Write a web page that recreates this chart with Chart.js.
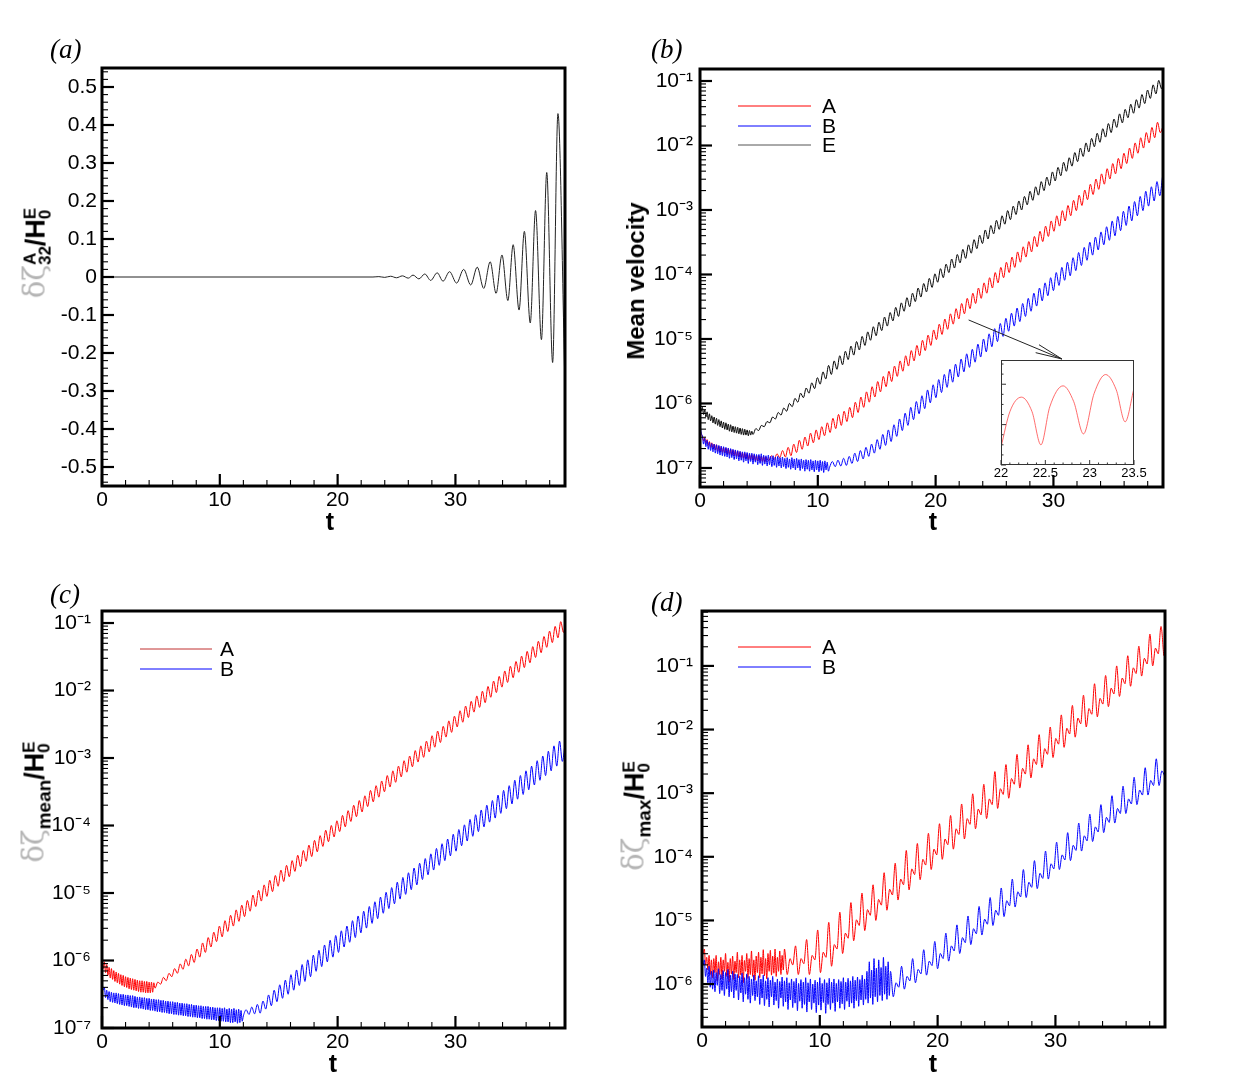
<!DOCTYPE html>
<html><head><meta charset="utf-8"><title>Four-panel growth chart</title>
<script src="https://cdn.jsdelivr.net/npm/chart.js@4.4.1/dist/chart.umd.min.js"></script>
<style>
body{margin:0;background:#fff;}
#wrap{position:relative;width:1242px;height:1092px;background:#fff;overflow:hidden;font-family:"Liberation Sans",Arial,Helvetica,sans-serif;color:#000;}
canvas{position:absolute;}
.pl{position:absolute;font-family:"Liberation Serif","Times New Roman",serif;font-style:italic;font-size:27px;line-height:27px;white-space:nowrap;}
.xt{position:absolute;font-weight:bold;font-size:25px;line-height:25px;transform:translate(-50%,-50%);}
.yt{position:absolute;font-weight:bold;font-size:27px;line-height:27px;white-space:nowrap;transform:translate(-50%,-50%) rotate(-90deg);}
.yt2{font-size:24px;line-height:24px;}
.g{color:#b4b4b4;font-weight:normal;font-family:"DejaVu Serif",serif;font-size:29px;}
.ss{display:inline-block;vertical-align:middle;font-size:17px;line-height:15px;text-align:left;}
.ss span{display:block;}
.sb{font-size:19px;vertical-align:-7px;}
</style></head><body>
<div id="wrap">
<canvas id="ca" width="600" height="510" style="left:0px;top:40px"></canvas>
<canvas id="cb" width="640" height="510" style="left:600px;top:40px"></canvas>
<canvas id="cc" width="600" height="500" style="left:0px;top:580px"></canvas>
<canvas id="cd" width="640" height="500" style="left:600px;top:580px"></canvas>
<canvas id="ci" width="165" height="140" style="left:990px;top:350px;z-index:2"></canvas>

<div class="pl" style="left:50px;top:36px">(a)</div>
<div class="pl" style="left:651px;top:36px">(b)</div>
<div class="pl" style="left:50px;top:581px">(c)</div>
<div class="pl" style="left:651px;top:589px">(d)</div>

<div class="xt" style="left:330px;top:521px">t</div>
<div class="xt" style="left:933px;top:521px">t</div>
<div class="xt" style="left:333px;top:1063px">t</div>
<div class="xt" style="left:933px;top:1063px">t</div>

<div class="yt" style="left:37px;top:253px"><span class="g">δζ</span><span class="ss"><span>A</span><span>32</span></span>/H<span class="ss"><span>E</span><span>0</span></span></div>
<div class="yt yt2" style="left:636px;top:281px">Mean velocity</div>
<div class="yt" style="left:39px;top:802px"><span class="g">δζ</span><span class="sb">mean</span>/H<span class="ss"><span>E</span><span>0</span></span></div>
<div class="yt" style="left:639px;top:816px"><span class="g">δζ</span><span class="sb">max</span>/H<span class="ss"><span>E</span><span>0</span></span></div>
</div>
<script>
// ---------------- shared axis values ----------------
const T_MAX = 39.3;
const x_ticks = [0, 10, 20, 30];
const x_tickLabels = ['0', '10', '20', '30'];
const logTickExp = [-7, -6, -5, -4, -3, -2, -1];
const logTickLabels = ['10⁻⁷', '10⁻⁶', '10⁻⁵', '10⁻⁴', '10⁻³', '10⁻²', '10⁻¹'];

// ---------------- panel (a): δζ^A_32/H^E_0 vs t ----------------
const a_t = [0, 23.0, 23.5, 24.0, 24.5, 25.0, 25.5, 26.0, 26.4, 26.9, 27.4, 27.9, 28.45, 28.95, 29.5, 30.1, 30.7, 31.3, 31.85, 32.4, 32.95, 33.45, 33.95, 34.45, 34.9, 35.4, 35.85, 36.35, 36.8, 37.3, 37.75, 38.25, 38.7, 39.3];
const a_v = [0, 0, 0.001, -0.001, 0.002, -0.002, 0.003, -0.003, 0.005, -0.005, 0.008, -0.009, 0.011, -0.011, 0.014, -0.016, 0.02, -0.021, 0.026, -0.03, 0.04, -0.043, 0.058, -0.062, 0.085, -0.087, 0.12, -0.121, 0.175, -0.165, 0.275, -0.225, 0.43, -0.29];
const a_yTicks = [-0.5, -0.4, -0.3, -0.2, -0.1, 0, 0.1, 0.2, 0.3, 0.4, 0.5];
const a_yTickLabels = ['-0.5', '-0.4', '-0.3', '-0.2', '-0.1', '0', '0.1', '0.2', '0.3', '0.4', '0.5'];

// ---------------- panel (b): mean velocity (log10 values) ----------------
const P_OSC = 0.475;      // oscillation period
const NOISE_DT = 0.1;     // sampling step of the noisy early parts
const b_E_noise = [-6.02,-6.12,-6.06,-6.17,-6.10,-6.21,-6.13,-6.25,-6.16,-6.27,-6.19,-6.30,-6.21,-6.32,-6.23,-6.34,-6.25,-6.36,-6.27,-6.38,-6.29,-6.40,-6.30,-6.41,-6.32,-6.43,-6.33,-6.44,-6.35,-6.45,-6.36,-6.46,-6.37,-6.47,-6.38,-6.48,-6.39,-6.49,-6.40,-6.49,-6.41,-6.50,-6.42,-6.49,-6.43];
const b_E_t0 = 4.5;
const b_E_troughs = [-6.48,-6.42,-6.36,-6.30,-6.24,-6.18,-6.12,-6.05,-5.98,-5.91,-5.84,-5.77,-5.70,-5.62,-5.55,-5.47,-5.40,-5.32,-5.25,-5.17,-5.10,-5.02,-4.95,-4.87,-4.80,-4.72,-4.65,-4.57,-4.50,-4.42,-4.35,-4.27,-4.20,-4.12,-4.05,-3.97,-3.90,-3.82,-3.75,-3.67,-3.60,-3.52,-3.45,-3.37,-3.30,-3.22,-3.15,-3.07,-3.00,-2.92,-2.85,-2.77,-2.70,-2.62,-2.55,-2.47,-2.40,-2.32,-2.25,-2.17,-2.10,-2.02,-1.95,-1.87,-1.80,-1.72,-1.65,-1.57,-1.50,-1.42,-1.35,-1.27,-1.20,-1.12];
const b_E_peaks = [-6.39,-6.34,-6.28,-6.21,-6.14,-6.07,-6.00,-5.92,-5.84,-5.76,-5.68,-5.60,-5.51,-5.41,-5.34,-5.26,-5.19,-5.11,-5.04,-4.96,-4.89,-4.81,-4.74,-4.66,-4.59,-4.51,-4.44,-4.36,-4.29,-4.21,-4.14,-4.06,-3.99,-3.91,-3.84,-3.76,-3.69,-3.61,-3.54,-3.46,-3.39,-3.31,-3.24,-3.16,-3.09,-3.01,-2.94,-2.86,-2.79,-2.71,-2.64,-2.56,-2.49,-2.41,-2.34,-2.26,-2.19,-2.11,-2.04,-1.96,-1.89,-1.81,-1.74,-1.66,-1.59,-1.51,-1.44,-1.36,-1.29,-1.21,-1.14,-1.06,-0.99];
const b_E_end = -1.05;

const b_A_noise = [-6.38,-6.48,-6.50,-6.58,-6.53,-6.62,-6.56,-6.65,-6.59,-6.68,-6.61,-6.70,-6.63,-6.72,-6.64,-6.74,-6.66,-6.75,-6.67,-6.76,-6.68,-6.77,-6.69,-6.78,-6.70,-6.79,-6.71,-6.80,-6.72,-6.81,-6.73,-6.82,-6.74,-6.83,-6.75,-6.84,-6.76,-6.85,-6.77,-6.86,-6.78,-6.87,-6.79,-6.87,-6.79,-6.88,-6.80,-6.89,-6.81,-6.89,-6.81,-6.90,-6.82,-6.90,-6.82,-6.91,-6.83];
const b_A_t0 = 5.82;
const b_A_troughs = [-6.89,-6.87,-6.84,-6.83,-6.81,-6.76,-6.71,-6.66,-6.61,-6.56,-6.50,-6.45,-6.39,-6.34,-6.28,-6.22,-6.14,-6.06,-5.98,-5.90,-5.82,-5.74,-5.66,-5.58,-5.50,-5.42,-5.34,-5.26,-5.18,-5.10,-5.01,-4.93,-4.85,-4.77,-4.69,-4.61,-4.53,-4.45,-4.37,-4.29,-4.21,-4.13,-4.05,-3.97,-3.89,-3.81,-3.73,-3.65,-3.57,-3.49,-3.41,-3.33,-3.25,-3.17,-3.09,-3.01,-2.93,-2.84,-2.76,-2.68,-2.60,-2.52,-2.44,-2.36,-2.28,-2.20,-2.12,-2.04,-1.96,-1.88,-1.80];
const b_A_peaks = [-6.81,-6.78,-6.73,-6.68,-6.63,-6.57,-6.52,-6.46,-6.41,-6.36,-6.30,-6.23,-6.17,-6.12,-6.06,-5.98,-5.90,-5.82,-5.74,-5.66,-5.58,-5.50,-5.42,-5.34,-5.26,-5.18,-5.10,-5.02,-4.94,-4.86,-4.77,-4.69,-4.61,-4.53,-4.45,-4.37,-4.29,-4.21,-4.13,-4.05,-3.97,-3.89,-3.81,-3.73,-3.65,-3.57,-3.49,-3.41,-3.33,-3.25,-3.17,-3.09,-3.01,-2.93,-2.85,-2.77,-2.69,-2.60,-2.52,-2.44,-2.36,-2.28,-2.20,-2.12,-2.04,-1.96,-1.88,-1.80,-1.72,-1.64];
const b_A_end = -1.70;

const b_B_noise = [-6.30,-6.46,-6.50,-6.63,-6.54,-6.67,-6.57,-6.71,-6.60,-6.73,
-6.62,-6.75,-6.63,-6.77,-6.64,-6.78,-6.65,-6.80,-6.66,-6.81,
-6.67,-6.82,-6.68,-6.83,-6.69,-6.85,-6.70,-6.84,-6.71,-6.87,
-6.72,-6.86,-6.73,-6.89,-6.74,-6.88,-6.75,-6.91,-6.75,-6.89,
-6.76,-6.93,-6.77,-6.90,-6.77,-6.94,-6.78,-6.91,-6.79,-6.95,
-6.79,-6.93,-6.78,-6.96,-6.80,-6.94,-6.81,-6.97,-6.80,-6.95,
-6.82,-6.98,-6.81,-6.96,-6.83,-6.99,-6.82,-6.97,-6.84,-7.00,
-6.83,-6.98,-6.85,-7.01,-6.84,-6.99,-6.86,-7.02,-6.84,-7.00,
-6.86,-7.03,-6.85,-7.00,-6.87,-7.04,-6.86,-7.01,-6.88,-7.05,
-6.87,-7.02,-6.88,-7.05,-6.87,-7.03,-6.89,-7.06,-6.88,-7.03,
-6.89,-7.06,-6.88,-7.04,-6.90,-7.07,-6.89,-7.03,-6.91,-7.05];
const b_B_t0 = 11.0;
const b_B_troughs = [-6.99,-6.98,-6.97,-6.96,-6.93,-6.90,-6.86,-6.82,-6.77,-6.71,-6.65,-6.59,-6.51,-6.42,-6.34,-6.25,-6.16,-6.08,-5.99,-5.91,-5.83,-5.75,-5.67,-5.59,-5.51,-5.44,-5.36,-5.28,-5.20,-5.12,-5.04,-4.96,-4.88,-4.80,-4.73,-4.65,-4.57,-4.49,-4.41,-4.33,-4.25,-4.17,-4.09,-4.02,-3.94,-3.86,-3.78,-3.70,-3.62,-3.54,-3.47,-3.40,-3.32,-3.24,-3.17,-3.09,-3.01,-2.94,-2.86,-2.78];
const b_B_peaks = [-6.90,-6.88,-6.85,-6.82,-6.77,-6.73,-6.68,-6.63,-6.56,-6.48,-6.41,-6.33,-6.24,-6.15,-6.06,-5.97,-5.88,-5.79,-5.71,-5.63,-5.55,-5.47,-5.39,-5.31,-5.23,-5.16,-5.08,-5.00,-4.92,-4.84,-4.76,-4.68,-4.60,-4.52,-4.45,-4.37,-4.29,-4.21,-4.13,-4.05,-3.97,-3.89,-3.81,-3.74,-3.66,-3.58,-3.50,-3.42,-3.34,-3.26,-3.17,-3.10,-3.02,-2.94,-2.87,-2.79,-2.71,-2.64,-2.56,-2.48];

const b_yRangeExp = [-7.295, -0.814];
const b_arrowFrom = [22.8, -4.705];   // [t, log10 value]
const b_arrowTo = [30.72, -5.31];

// inset of panel (b): curve A for 22 <= t <= 23.5 (arbitrary linear units)
const inset_t = [22.0, 22.1, 22.23, 22.35, 22.45, 22.55, 22.7, 22.82, 22.93, 23.05, 23.18, 23.3, 23.4, 23.5];
const inset_v = [1.44, 2.32, 2.68, 2.32, 1.50, 2.44, 2.96, 2.57, 1.77, 2.77, 3.24, 2.86, 2.07, 2.90];
const inset_xTicks = [22, 22.5, 23, 23.5];
const inset_xTickLabels = ['22', '22.5', '23', '23.5'];

// ---------------- panel (c): δζ_mean/H^E_0 (log10 values) ----------------
const c_A_noise = [-5.95,-6.12,-6.02,-6.18,-6.06,-6.22,-6.10,-6.26,-6.12,-6.28,-6.15,-6.31,-6.17,-6.33,-6.19,-6.35,-6.21,-6.37,-6.22,-6.39,-6.24,-6.40,-6.25,-6.42,-6.26,-6.43,-6.27,-6.44,-6.28,-6.45,-6.29,-6.46,-6.30,-6.47,-6.30,-6.47,-6.31,-6.48,-6.31,-6.48,-6.32,-6.48,-6.32,-6.47,-6.33];
const c_A_t0 = 4.5;
const c_A_troughs = [-6.41,-6.35,-6.30,-6.24,-6.19,-6.13,-6.08,-6.03,-5.95,-5.88,-5.80,-5.72,-5.65,-5.57,-5.49,-5.42,-5.35,-5.27,-5.20,-5.12,-5.05,-4.98,-4.90,-4.83,-4.76,-4.68,-4.61,-4.53,-4.46,-4.39,-4.31,-4.24,-4.17,-4.09,-4.02,-3.94,-3.87,-3.80,-3.72,-3.65,-3.58,-3.50,-3.43,-3.36,-3.28,-3.21,-3.13,-3.06,-2.99,-2.91,-2.84,-2.77,-2.69,-2.62,-2.54,-2.47,-2.40,-2.32,-2.25,-2.18,-2.10,-2.03,-1.95,-1.88,-1.81,-1.73,-1.66,-1.59,-1.51,-1.44,-1.36,-1.29,-1.22,-1.14];
const c_A_peaks = [-6.32,-6.25,-6.19,-6.12,-6.05,-5.98,-5.91,-5.83,-5.74,-5.66,-5.58,-5.49,-5.41,-5.33,-5.25,-5.18,-5.11,-5.03,-4.96,-4.88,-4.81,-4.74,-4.66,-4.59,-4.52,-4.44,-4.37,-4.29,-4.22,-4.15,-4.07,-4.00,-3.93,-3.85,-3.78,-3.70,-3.63,-3.56,-3.48,-3.41,-3.34,-3.26,-3.19,-3.12,-3.04,-2.97,-2.89,-2.82,-2.75,-2.67,-2.60,-2.53,-2.45,-2.38,-2.30,-2.23,-2.16,-2.08,-2.01,-1.94,-1.86,-1.79,-1.71,-1.64,-1.57,-1.49,-1.42,-1.35,-1.27,-1.20,-1.12,-1.05,-0.98];
const c_A_end = -1.05;

const c_B_noise = [-6.28,-6.44,-6.40,-6.55,-6.44,-6.58,-6.46,-6.61,-6.47,-6.62,
-6.48,-6.63,-6.48,-6.64,-6.49,-6.65,-6.50,-6.66,-6.50,-6.67,
-6.51,-6.67,-6.51,-6.68,-6.52,-6.69,-6.52,-6.70,-6.53,-6.70,
-6.54,-6.71,-6.54,-6.71,-6.55,-6.72,-6.55,-6.73,-6.56,-6.73,
-6.56,-6.74,-6.57,-6.74,-6.57,-6.75,-6.58,-6.76,-6.58,-6.76,
-6.59,-6.77,-6.59,-6.77,-6.60,-6.78,-6.60,-6.79,-6.61,-6.79,
-6.61,-6.80,-6.62,-6.80,-6.62,-6.81,-6.63,-6.81,-6.63,-6.82,
-6.64,-6.82,-6.64,-6.83,-6.65,-6.83,-6.65,-6.84,-6.66,-6.84,
-6.66,-6.85,-6.67,-6.85,-6.67,-6.86,-6.68,-6.86,-6.68,-6.87,
-6.68,-6.87,-6.69,-6.88,-6.69,-6.88,-6.70,-6.89,-6.70,-6.89,
-6.70,-6.90,-6.71,-6.90,-6.70,-6.91,-6.72,-6.91,-6.71,-6.92,
-6.72,-6.92,-6.71,-6.91,-6.73,-6.93,-6.72,-6.92,-6.74,-6.90];
const c_B_t0 = 12.0;
const c_B_troughs = [-6.82,-6.80,-6.79,-6.78,-6.72,-6.67,-6.61,-6.56,-6.50,-6.44,-6.37,-6.31,-6.24,-6.16,-6.09,-6.02,-5.95,-5.88,-5.80,-5.73,-5.66,-5.59,-5.52,-5.45,-5.38,-5.30,-5.23,-5.16,-5.09,-5.02,-4.95,-4.88,-4.80,-4.73,-4.66,-4.59,-4.52,-4.45,-4.38,-4.30,-4.23,-4.16,-4.09,-4.02,-3.95,-3.89,-3.82,-3.75,-3.68,-3.61,-3.54,-3.47,-3.40,-3.33,-3.26,-3.19,-3.12,-3.05];
const c_B_peaks = [-6.73,-6.69,-6.65,-6.60,-6.51,-6.44,-6.36,-6.29,-6.21,-6.14,-6.06,-5.99,-5.92,-5.85,-5.77,-5.70,-5.63,-5.56,-5.49,-5.41,-5.34,-5.27,-5.20,-5.13,-5.06,-4.99,-4.92,-4.84,-4.77,-4.70,-4.63,-4.56,-4.49,-4.42,-4.34,-4.27,-4.20,-4.13,-4.06,-3.99,-3.91,-3.84,-3.77,-3.70,-3.63,-3.55,-3.48,-3.41,-3.33,-3.26,-3.19,-3.12,-3.04,-2.97,-2.90,-2.82,-2.75];
const c_B_end = -2.80;
const c_yRangeExp = [-7.0, -0.822];

// ---------------- panel (d): δζ_max/H^E_0 (log10 values) ----------------
const P_OSC_D = 0.94;     // period of the large peaks in (d)
const d_A_noise = [-5.30,-5.52,-5.45,-5.70,-5.58,-5.78,-5.55,-5.85,-5.62,-5.90,
-5.60,-5.82,-5.55,-5.95,-5.65,-5.85,-5.58,-5.92,-5.62,-5.80,
-5.52,-5.88,-5.66,-5.97,-5.60,-5.84,-5.56,-5.93,-5.64,-5.82,
-5.50,-5.90,-5.62,-5.86,-5.55,-5.98,-5.63,-5.80,-5.52,-5.91,
-5.60,-5.85,-5.48,-5.88,-5.62,-5.94,-5.56,-5.82,-5.50,-5.90,
-5.58,-5.84,-5.46,-5.87,-5.60,-5.92,-5.52,-5.80,-5.47,-5.86,
-5.56,-5.83,-5.45,-5.88,-5.58,-5.80,-5.48,-5.85,-5.55,-5.78];
const d_A_t0 = 7.0;
const d_A_peaks = [-5.45,-5.40,-5.30,-5.15,-5.03,-4.87,-4.72,-4.57,-4.44,-4.25,-4.10,-3.90,-3.79,-3.63,-3.48,-3.35,-3.17,-3.01,-2.86,-2.66,-2.55,-2.39,-2.24,-2.08,-1.96,-1.77,-1.62,-1.46,-1.28,-1.15,-1.00,-0.84,-0.69,-0.50,-0.38];
const d_A_troughs = [-5.85,-5.85,-5.85,-5.82,-5.72,-5.52,-5.32,-5.16,-5.00,-4.84,-4.68,-4.52,-4.36,-4.20,-4.04,-3.88,-3.72,-3.56,-3.40,-3.24,-3.08,-2.92,-2.76,-2.60,-2.44,-2.28,-2.12,-1.96,-1.80,-1.64,-1.48,-1.32,-1.16,-1.00,-0.84];
const d_A_shoulders = [-5.60,-5.60,-5.55,-5.50,-5.38,-5.20,-4.99,-4.83,-4.67,-4.51,-4.35,-4.19,-4.04,-3.88,-3.72,-3.56,-3.40,-3.25,-3.09,-2.93,-2.77,-2.61,-2.46,-2.30,-2.14,-1.98,-1.82,-1.67,-1.51,-1.35,-1.19,-1.03,-0.88,-0.72];
const d_A_dips = [-5.70,-5.68,-5.62,-5.58,-5.45,-5.28,-5.08,-4.92,-4.76,-4.60,-4.44,-4.28,-4.13,-3.97,-3.81,-3.65,-3.49,-3.34,-3.18,-3.02,-2.86,-2.70,-2.55,-2.39,-2.23,-2.07,-1.91,-1.76,-1.60,-1.44,-1.28,-1.12,-0.97,-0.81];

const d_B_noise = [-5.45,-5.70,-5.62,-5.88,-5.75,-5.98,-5.72,-6.05,-5.80,-6.08,
-5.78,-6.12,-5.82,-6.02,-5.76,-6.15,-5.85,-6.10,-5.79,-6.18,
-5.82,-6.08,-5.77,-6.20,-5.86,-6.12,-5.80,-6.22,-5.84,-6.10,
-5.85,-6.25,-5.88,-6.14,-5.83,-6.28,-5.90,-6.16,-5.84,-6.24,
-5.88,-6.30,-5.92,-6.18,-5.86,-6.26,-5.95,-6.20,-5.87,-6.32,
-5.92,-6.22,-5.86,-6.34,-5.95,-6.24,-5.90,-6.36,-5.94,-6.20,
-5.88,-6.33,-5.97,-6.26,-5.92,-6.38,-5.96,-6.22,-5.89,-6.35,
-5.95,-6.28,-5.90,-6.40,-5.98,-6.25,-5.92,-6.37,-5.96,-6.30,
-5.91,-6.42,-5.99,-6.27,-5.93,-6.38,-5.97,-6.32,-5.90,-6.44,
-5.98,-6.28,-5.92,-6.40,-6.00,-6.30,-5.94,-6.45,-5.97,-6.33,
-5.90,-6.41,-5.99,-6.29,-5.93,-6.46,-5.98,-6.32,-5.91,-6.40,
-5.97,-6.30,-5.92,-6.43,-5.99,-6.28,-5.93,-6.38,-5.96,-6.31,
-5.90,-6.40,-5.97,-6.27,-5.91,-6.36,-5.95,-6.30,-5.88,-6.38,
-5.94,-6.26,-5.89,-6.35,-5.93,-6.25,-5.86,-6.33,-5.92,-6.24,
-5.80,-6.30,-5.65,-6.22,-5.78,-6.32,-5.60,-6.20,-5.75,-6.28,
-5.62,-6.18,-5.74,-6.26,-5.58,-6.16,-5.72,-6.24,-5.65,-6.18];
const d_B_t0 = 16.0;
const d_B_peaks = [-5.80,-5.72,-5.60,-5.46,-5.33,-5.20,-5.07,-4.93,-4.78,-4.64,-4.49,-4.35,-4.20,-4.06,-3.91,-3.77,-3.62,-3.47,-3.33,-3.18,-3.04,-2.89,-2.75,-2.60,-2.46];
const d_B_troughs = [-6.20,-6.08,-5.98,-5.86,-5.76,-5.64,-5.52,-5.38,-5.23,-5.08,-4.94,-4.79,-4.64,-4.50,-4.35,-4.20,-4.06,-3.91,-3.76,-3.62,-3.47,-3.32,-3.18,-3.03,-2.88];
const d_B_shoulders = [-5.98,-5.88,-5.77,-5.64,-5.52,-5.40,-5.27,-5.13,-4.98,-4.84,-4.69,-4.55,-4.40,-4.26,-4.11,-3.97,-3.82,-3.67,-3.53,-3.38,-3.24,-3.09,-2.95,-2.80,-2.65];
const d_B_dips = [-6.05,-5.95,-5.84,-5.71,-5.60,-5.48,-5.35,-5.21,-5.06,-4.92,-4.77,-4.63,-4.48,-4.34,-4.19,-4.05,-3.90,-3.75,-3.61,-3.46,-3.32,-3.17,-3.03,-2.88,-2.73];
const d_yRangeExp = [-6.675, -0.137];

// ---------------- helpers ----------------
const FONT = '"Liberation Sans", Arial, Helvetica, sans-serif';
const RED = '#ff0000', BLUE = '#0000ff', BLACK = '#000000';

// Noise part sampled every NOISE_DT from t=0, then the oscillation extremes
// (phases listed in time order inside one period), then an optional end value.
function series(noise, t0, period, phases, endV) {
  const pts = [];
  noise.forEach((v, i) => pts.push({ x: +(i * NOISE_DT).toFixed(4), y: Math.pow(10, v) }));
  const n = phases.length;
  const K = Math.max(...phases.map(p => p.length));
  for (let k = 0; k < K; k++) {
    for (let j = 0; j < n; j++) {
      if (k < phases[j].length) {
        const t = t0 + k * period + j * period / n;
        if (t <= T_MAX + 1e-9) pts.push({ x: t, y: Math.pow(10, phases[j][k]) });
      }
    }
  }
  if (endV !== null && endV !== undefined && pts[pts.length - 1].x < T_MAX - 0.02) pts.push({ x: T_MAX, y: Math.pow(10, endV) });
  return pts;
}

function logMinor(r) {
  const out = [];
  for (let e = Math.floor(r[0]); e <= Math.ceil(r[1]); e++) {
    for (let m = 2; m <= 9; m++) {
      const lv = e + Math.log10(m);
      if (lv >= r[0] && lv <= r[1]) out.push(Math.pow(10, lv));
    }
  }
  return out;
}
function logMajor(r) {
  return logTickExp.filter(e => e >= r[0] - 1e-9 && e <= r[1] + 1e-9).map(e => Math.pow(10, e));
}
function logLabel(v) {
  const e = Math.round(Math.log10(v));
  const i = logTickExp.indexOf(e);
  return i >= 0 ? logTickLabels[i] : '';
}
const xMinor = [2, 4, 6, 8, 12, 14, 16, 18, 22, 24, 26, 28, 32, 34, 36, 38];

function tecDeco(o) {
  return {
    id: 'tecDeco',
    afterDraw(chart) {
      const ctx = chart.ctx, a = chart.chartArea, xs = chart.scales.x, ys = chart.scales.y;
      ctx.save();
      ctx.strokeStyle = '#000';
      const line = (x1, y1, x2, y2, w) => { ctx.lineWidth = w; ctx.beginPath(); ctx.moveTo(x1, y1); ctx.lineTo(x2, y2); ctx.stroke(); };
      o.xMajor.forEach(v => { const p = xs.getPixelForValue(v); line(p, a.bottom, p, a.bottom - o.majLen, o.majW); });
      o.xMinor.forEach(v => { if (v < xs.min || v > xs.max) return; const p = xs.getPixelForValue(v); line(p, a.bottom, p, a.bottom - o.minLen, o.minW); });
      o.yMajor.forEach(v => { const p = ys.getPixelForValue(v); line(a.left, p, a.left + o.majLen, p, o.majW); });
      o.yMinor.forEach(v => { const p = ys.getPixelForValue(v); line(a.left, p, a.left + o.minLen, p, o.minW); });
      ctx.lineWidth = o.frameW;
      ctx.strokeRect(a.left, a.top, a.right - a.left, a.bottom - a.top);
      if (o.legend) {
        ctx.font = '21px ' + FONT;
        ctx.textBaseline = 'middle';
        ctx.textAlign = 'left';
        o.legend.forEach(it => {
          ctx.strokeStyle = it.color;
          line(a.left + o.legendX0, a.top + it.dy, a.left + o.legendX1, a.top + it.dy, 1);
          ctx.fillStyle = '#000';
          ctx.fillText(it.text, a.left + o.legendTextX, a.top + it.dy + 1);
        });
      }
      if (o.extra) o.extra(chart, ctx);
      ctx.restore();
    }
  };
}

function makeChart(id, box, area, yScale, datasets, deco) {
  return new Chart(document.getElementById(id), {
    type: 'line',
    data: { datasets },
    options: {
      responsive: false, maintainAspectRatio: false, animation: false, devicePixelRatio: 1,
      parsing: false, normalized: true, events: [],
      layout: { padding: { left: 0, top: area.t - box.top, right: box.left + box.w - area.r, bottom: 0 } },
      plugins: { legend: { display: false }, tooltip: { enabled: false } },
      elements: { point: { radius: 0 }, line: { borderWidth: 1, cubicInterpolationMode: 'monotone' } },
      scales: {
        x: {
          type: 'linear', min: 0, max: T_MAX,
          afterBuildTicks: s => { s.ticks = x_ticks.map(v => ({ value: v })); },
          ticks: { autoSkip: false, maxRotation: 0, padding: 2, color: '#000',
                   font: { family: FONT, size: 21 }, callback: (v, i) => x_tickLabels[i] },
          grid: { display: false, drawTicks: false }, border: { display: false },
          afterFit: s => { s.height = box.top + box.h - area.b; }
        },
        y: Object.assign({
          grid: { display: false, drawTicks: false }, border: { display: false },
          afterFit: s => { s.width = area.l - box.left; }
        }, yScale)
      }
    },
    plugins: [tecDeco(deco)]
  });
}

function logY(r, pad) {
  return {
    type: 'logarithmic', min: Math.pow(10, r[0]), max: Math.pow(10, r[1]),
    afterBuildTicks: s => { s.ticks = logMajor(r).map(v => ({ value: v })); },
    ticks: { autoSkip: false, padding: pad, color: '#000', font: { family: FONT, size: 21 }, callback: v => logLabel(v) }
  };
}
const ds = (data, color, order) => ({ data, borderColor: color, borderWidth: 1, order, pointRadius: 0, fill: false });

// ---------------- panel (a) ----------------
const aMinorY = [];
for (let i = -27; i <= 27; i++) { if (i % 5 !== 0) aMinorY.push(i * 0.02); }
makeChart('ca', { left: 0, top: 40, w: 600, h: 510 }, { l: 102, t: 68, r: 565, b: 486 },
  {
    type: 'linear', min: -0.55, max: 0.55,
    afterBuildTicks: s => { s.ticks = a_yTicks.map(v => ({ value: v })); },
    ticks: { autoSkip: false, padding: 5, color: '#000', font: { family: FONT, size: 21 }, callback: (v, i) => a_yTickLabels[i] }
  },
  [ds(a_t.map((t, i) => ({ x: t, y: a_v[i] })), '#222222', 0)],
  { xMajor: x_ticks, xMinor, yMajor: a_yTicks, yMinor: aMinorY, majLen: 12, minLen: 6, majW: 2.2, minW: 1.1, frameW: 3 });

// ---------------- panel (b) ----------------
makeChart('cb', { left: 600, top: 40, w: 640, h: 510 }, { l: 700, t: 69, r: 1163, b: 487 },
  logY(b_yRangeExp, 7),
  [
    ds(series(b_B_noise, b_B_t0, P_OSC, [b_B_troughs, b_B_peaks], null), BLUE, 0),
    ds(series(b_A_noise, b_A_t0, P_OSC, [b_A_troughs, b_A_peaks], b_A_end), RED, 1),
    ds(series(b_E_noise, b_E_t0, P_OSC, [b_E_troughs, b_E_peaks], b_E_end), BLACK, 2)
  ],
  {
    xMajor: x_ticks, xMinor, yMajor: logMajor(b_yRangeExp), yMinor: logMinor(b_yRangeExp),
    majLen: 12, minLen: 6, majW: 2.2, minW: 1.1, frameW: 3,
    legend: [{ text: 'A', color: RED, dy: 37 }, { text: 'B', color: BLUE, dy: 57 }, { text: 'E', color: '#555', dy: 76 }],
    legendX0: 38, legendX1: 111, legendTextX: 122,
    extra: (chart, ctx) => {
      const xs = chart.scales.x, ys = chart.scales.y;
      const x1 = xs.getPixelForValue(b_arrowFrom[0]), y1 = ys.getPixelForValue(Math.pow(10, b_arrowFrom[1]));
      const x2 = xs.getPixelForValue(b_arrowTo[0]), y2 = ys.getPixelForValue(Math.pow(10, b_arrowTo[1]));
      const ang = Math.atan2(y2 - y1, x2 - x1), L = 27, sp = 0.16;
      ctx.strokeStyle = '#222'; ctx.lineWidth = 1;
      ctx.beginPath();
      ctx.moveTo(x1, y1); ctx.lineTo(x2, y2);
      ctx.moveTo(x2, y2); ctx.lineTo(x2 - L * Math.cos(ang - sp), y2 - L * Math.sin(ang - sp));
      ctx.moveTo(x2, y2); ctx.lineTo(x2 - L * Math.cos(ang + sp), y2 - L * Math.sin(ang + sp));
      ctx.stroke();
    }
  });

// inset
const insetMinorY = [1.25, 1.5, 1.75, 2.25, 2.5, 2.75, 3.25, 3.5];
const insetMinorX = [22.1, 22.2, 22.3, 22.4, 22.6, 22.7, 22.8, 22.9, 23.1, 23.2, 23.3, 23.4];
new Chart(document.getElementById('ci'), {
  type: 'line',
  data: { datasets: [{ data: inset_t.map((t, i) => ({ x: t, y: inset_v[i] })), borderColor: 'rgba(255,60,60,0.75)', borderWidth: 1, pointRadius: 0, fill: false }] },
  options: {
    responsive: false, maintainAspectRatio: false, animation: false, devicePixelRatio: 1, parsing: false, events: [],
    layout: { padding: { left: 0, top: 10, right: 21, bottom: 0 } },
    plugins: { legend: { display: false }, tooltip: { enabled: false } },
    elements: { point: { radius: 0 }, line: { cubicInterpolationMode: 'monotone' } },
    scales: {
      x: { type: 'linear', min: 22, max: 23.5,
           afterBuildTicks: s => { s.ticks = inset_xTicks.map(v => ({ value: v })); },
           ticks: { autoSkip: false, maxRotation: 0, padding: 1, color: '#000', font: { family: FONT, size: 13 }, callback: (v, i) => inset_xTickLabels[i] },
           grid: { display: false, drawTicks: false }, border: { display: false },
           afterFit: s => { s.height = 25; } },
      y: { type: 'linear', min: 1.0, max: 3.6, ticks: { display: false },
           grid: { display: false, drawTicks: false }, border: { display: false },
           afterFit: s => { s.width = 11; } }
    }
  },
  plugins: [{
    id: 'insetDeco',
    beforeDraw(chart) {
      const a = chart.chartArea, ctx = chart.ctx;
      ctx.save(); ctx.fillStyle = '#fff'; ctx.fillRect(a.left, a.top, a.right - a.left, a.bottom - a.top); ctx.restore();
    },
    afterDraw(chart) {
      const a = chart.chartArea, ctx = chart.ctx, xs = chart.scales.x, ys = chart.scales.y;
      ctx.save(); ctx.strokeStyle = '#333';
      ctx.lineWidth = 1;
      ctx.beginPath();
      inset_xTicks.forEach(v => { const p = xs.getPixelForValue(v); ctx.moveTo(p, a.bottom); ctx.lineTo(p, a.bottom - 5); });
      insetMinorX.forEach(v => { const p = xs.getPixelForValue(v); ctx.moveTo(p, a.bottom); ctx.lineTo(p, a.bottom - 2.5); });
      [1, 2, 3].forEach(v => { const p = ys.getPixelForValue(v); ctx.moveTo(a.left, p); ctx.lineTo(a.left + 5, p); });
      insetMinorY.forEach(v => { const p = ys.getPixelForValue(v); ctx.moveTo(a.left, p); ctx.lineTo(a.left + 2.5, p); });
      ctx.stroke();
      ctx.strokeRect(a.left + 0.5, a.top + 0.5, a.right - a.left - 1, a.bottom - a.top - 1);
      ctx.restore();
    }
  }]
});

// ---------------- panel (c) ----------------
makeChart('cc', { left: 0, top: 580, w: 600, h: 500 }, { l: 102, t: 611, r: 565, b: 1028 },
  logY(c_yRangeExp, 11),
  [
    ds(series(c_B_noise, c_B_t0, P_OSC, [c_B_troughs, c_B_peaks], c_B_end), BLUE, 0),
    ds(series(c_A_noise, c_A_t0, P_OSC, [c_A_troughs, c_A_peaks], c_A_end), RED, 1)
  ],
  {
    xMajor: x_ticks, xMinor, yMajor: logMajor(c_yRangeExp), yMinor: logMinor(c_yRangeExp),
    majLen: 12, minLen: 6, majW: 2.2, minW: 1.1, frameW: 3,
    legend: [{ text: 'A', color: '#c03030', dy: 38 }, { text: 'B', color: BLUE, dy: 58 }],
    legendX0: 38, legendX1: 110, legendTextX: 118
  });

// ---------------- panel (d) ----------------
makeChart('cd', { left: 600, top: 580, w: 640, h: 500 }, { l: 702, t: 611, r: 1165, b: 1027 },
  logY(d_yRangeExp, 9),
  [
    ds(series(d_B_noise, d_B_t0, P_OSC_D, [d_B_peaks, d_B_troughs, d_B_shoulders, d_B_dips], null), BLUE, 0),
    ds(series(d_A_noise, d_A_t0, P_OSC_D, [d_A_peaks, d_A_troughs, d_A_shoulders, d_A_dips], null), RED, 1)
  ],
  {
    xMajor: x_ticks, xMinor, yMajor: logMajor(d_yRangeExp), yMinor: logMinor(d_yRangeExp),
    majLen: 12, minLen: 6, majW: 2.2, minW: 1.1, frameW: 3,
    legend: [{ text: 'A', color: RED, dy: 36 }, { text: 'B', color: BLUE, dy: 56 }],
    legendX0: 36, legendX1: 109, legendTextX: 120
  });
</script>
</body></html>
